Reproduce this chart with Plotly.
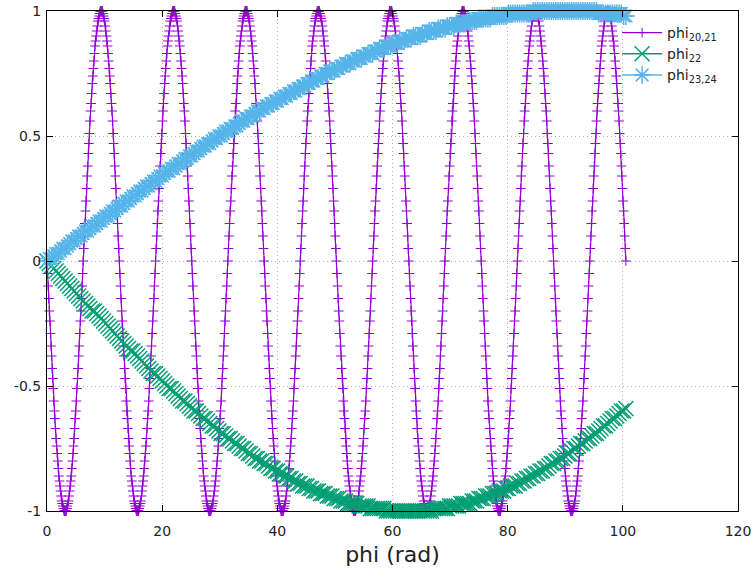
import plotly.graph_objects as go

# ---- data: phi_20,21 (fast oscillation) ----
phi_fast_x = [
0, 0.10, 0.20, 0.29, 0.39, 0.49, 0.59, 0.69, 0.79, 0.88, 0.98, 1.08, 1.18, 1.28, 1.37, 1.47, 1.57, 1.67, 1.77, 1.87, 1.96, 2.06, 2.16, 2.26, 2.36, 2.45, 2.55, 2.65, 2.75, 2.85, 2.95, 3.04,
3.14, 3.24, 3.34, 3.44, 3.53, 3.63, 3.73, 3.83, 3.93, 4.03, 4.12, 4.22, 4.32, 4.42, 4.52, 4.61, 4.71, 4.81, 4.91, 5.01, 5.11, 5.20, 5.30, 5.40, 5.50, 5.60, 5.69, 5.79, 5.89, 5.99, 6.09, 6.19,
6.28, 6.38, 6.48, 6.58, 6.68, 6.77, 6.87, 6.97, 7.07, 7.17, 7.26, 7.36, 7.46, 7.56, 7.66, 7.76, 7.85, 7.95, 8.05, 8.15, 8.25, 8.34, 8.44, 8.54, 8.64, 8.74, 8.84, 8.93, 9.03, 9.13, 9.23, 9.33,
9.42, 9.52, 9.62, 9.72, 9.82, 9.92, 10.01, 10.11, 10.21, 10.31, 10.41, 10.50, 10.60, 10.70, 10.80, 10.90, 11.00, 11.09, 11.19, 11.29, 11.39, 11.49, 11.58, 11.68, 11.78, 11.88, 11.98, 12.08, 12.17, 12.27, 12.37, 12.47,
12.57, 12.66, 12.76, 12.86, 12.96, 13.06, 13.16, 13.25, 13.35, 13.45, 13.55, 13.65, 13.74, 13.84, 13.94, 14.04, 14.14, 14.24, 14.33, 14.43, 14.53, 14.63, 14.73, 14.82, 14.92, 15.02, 15.12, 15.22, 15.32, 15.41, 15.51, 15.61,
15.71, 15.81, 15.90, 16.00, 16.10, 16.20, 16.30, 16.40, 16.49, 16.59, 16.69, 16.79, 16.89, 16.98, 17.08, 17.18, 17.28, 17.38, 17.48, 17.57, 17.67, 17.77, 17.87, 17.97, 18.06, 18.16, 18.26, 18.36, 18.46, 18.56, 18.65, 18.75,
18.85, 18.95, 19.05, 19.14, 19.24, 19.34, 19.44, 19.54, 19.63, 19.73, 19.83, 19.93, 20.03, 20.13, 20.22, 20.32, 20.42, 20.52, 20.62, 20.71, 20.81, 20.91, 21.01, 21.11, 21.21, 21.30, 21.40, 21.50, 21.60, 21.70, 21.79, 21.89,
21.99, 22.09, 22.19, 22.29, 22.38, 22.48, 22.58, 22.68, 22.78, 22.87, 22.97, 23.07, 23.17, 23.27, 23.37, 23.46, 23.56, 23.66, 23.76, 23.86, 23.95, 24.05, 24.15, 24.25, 24.35, 24.45, 24.54, 24.64, 24.74, 24.84, 24.94, 25.03,
25.13, 25.23, 25.33, 25.43, 25.53, 25.62, 25.72, 25.82, 25.92, 26.02, 26.11, 26.21, 26.31, 26.41, 26.51, 26.61, 26.70, 26.80, 26.90, 27.00, 27.10, 27.19, 27.29, 27.39, 27.49, 27.59, 27.69, 27.78, 27.88, 27.98, 28.08, 28.18,
28.27, 28.37, 28.47, 28.57, 28.67, 28.77, 28.86, 28.96, 29.06, 29.16, 29.26, 29.35, 29.45, 29.55, 29.65, 29.75, 29.85, 29.94, 30.04, 30.14, 30.24, 30.34, 30.43, 30.53, 30.63, 30.73, 30.83, 30.93, 31.02, 31.12, 31.22, 31.32,
31.42, 31.51, 31.61, 31.71, 31.81, 31.91, 32.00, 32.10, 32.20, 32.30, 32.40, 32.50, 32.59, 32.69, 32.79, 32.89, 32.99, 33.08, 33.18, 33.28, 33.38, 33.48, 33.58, 33.67, 33.77, 33.87, 33.97, 34.07, 34.16, 34.26, 34.36, 34.46,
34.56, 34.66, 34.75, 34.85, 34.95, 35.05, 35.15, 35.24, 35.34, 35.44, 35.54, 35.64, 35.74, 35.83, 35.93, 36.03, 36.13, 36.23, 36.32, 36.42, 36.52, 36.62, 36.72, 36.82, 36.91, 37.01, 37.11, 37.21, 37.31, 37.40, 37.50, 37.60,
37.70, 37.80, 37.90, 37.99, 38.09, 38.19, 38.29, 38.39, 38.48, 38.58, 38.68, 38.78, 38.88, 38.98, 39.07, 39.17, 39.27, 39.37, 39.47, 39.56, 39.66, 39.76, 39.86, 39.96, 40.06, 40.15, 40.25, 40.35, 40.45, 40.55, 40.64, 40.74,
40.84, 40.94, 41.04, 41.14, 41.23, 41.33, 41.43, 41.53, 41.63, 41.72, 41.82, 41.92, 42.02, 42.12, 42.22, 42.31, 42.41, 42.51, 42.61, 42.71, 42.80, 42.90, 43.00, 43.10, 43.20, 43.30, 43.39, 43.49, 43.59, 43.69, 43.79, 43.88,
43.98, 44.08, 44.18, 44.28, 44.38, 44.47, 44.57, 44.67, 44.77, 44.87, 44.96, 45.06, 45.16, 45.26, 45.36, 45.45, 45.55, 45.65, 45.75, 45.85, 45.95, 46.04, 46.14, 46.24, 46.34, 46.44, 46.53, 46.63, 46.73, 46.83, 46.93, 47.03,
47.12, 47.22, 47.32, 47.42, 47.52, 47.61, 47.71, 47.81, 47.91, 48.01, 48.11, 48.20, 48.30, 48.40, 48.50, 48.60, 48.69, 48.79, 48.89, 48.99, 49.09, 49.19, 49.28, 49.38, 49.48, 49.58, 49.68, 49.77, 49.87, 49.97, 50.07, 50.17,
50.27, 50.36, 50.46, 50.56, 50.66, 50.76, 50.85, 50.95, 51.05, 51.15, 51.25, 51.35, 51.44, 51.54, 51.64, 51.74, 51.84, 51.93, 52.03, 52.13, 52.23, 52.33, 52.43, 52.52, 52.62, 52.72, 52.82, 52.92, 53.01, 53.11, 53.21, 53.31,
53.41, 53.51, 53.60, 53.70, 53.80, 53.90, 54.00, 54.09, 54.19, 54.29, 54.39, 54.49, 54.59, 54.68, 54.78, 54.88, 54.98, 55.08, 55.17, 55.27, 55.37, 55.47, 55.57, 55.67, 55.76, 55.86, 55.96, 56.06, 56.16, 56.25, 56.35, 56.45,
56.55, 56.65, 56.75, 56.84, 56.94, 57.04, 57.14, 57.24, 57.33, 57.43, 57.53, 57.63, 57.73, 57.83, 57.92, 58.02, 58.12, 58.22, 58.32, 58.41, 58.51, 58.61, 58.71, 58.81, 58.90, 59.00, 59.10, 59.20, 59.30, 59.40, 59.49, 59.59,
59.69, 59.79, 59.89, 59.98, 60.08, 60.18, 60.28, 60.38, 60.48, 60.57, 60.67, 60.77, 60.87, 60.97, 61.06, 61.16, 61.26, 61.36, 61.46, 61.56, 61.65, 61.75, 61.85, 61.95, 62.05, 62.14, 62.24, 62.34, 62.44, 62.54, 62.64, 62.73,
62.83, 62.93, 63.03, 63.13, 63.22, 63.32, 63.42, 63.52, 63.62, 63.72, 63.81, 63.91, 64.01, 64.11, 64.21, 64.30, 64.40, 64.50, 64.60, 64.70, 64.80, 64.89, 64.99, 65.09, 65.19, 65.29, 65.38, 65.48, 65.58, 65.68, 65.78, 65.88,
65.97, 66.07, 66.17, 66.27, 66.37, 66.46, 66.56, 66.66, 66.76, 66.86, 66.96, 67.05, 67.15, 67.25, 67.35, 67.45, 67.54, 67.64, 67.74, 67.84, 67.94, 68.04, 68.13, 68.23, 68.33, 68.43, 68.53, 68.62, 68.72, 68.82, 68.92, 69.02,
69.12, 69.21, 69.31, 69.41, 69.51, 69.61, 69.70, 69.80, 69.90, 70.00, 70.10, 70.19, 70.29, 70.39, 70.49, 70.59, 70.69, 70.78, 70.88, 70.98, 71.08, 71.18, 71.27, 71.37, 71.47, 71.57, 71.67, 71.77, 71.86, 71.96, 72.06, 72.16,
72.26, 72.35, 72.45, 72.55, 72.65, 72.75, 72.85, 72.94, 73.04, 73.14, 73.24, 73.34, 73.43, 73.53, 73.63, 73.73, 73.83, 73.93, 74.02, 74.12, 74.22, 74.32, 74.42, 74.51, 74.61, 74.71, 74.81, 74.91, 75.01, 75.10, 75.20, 75.30,
75.40, 75.50, 75.59, 75.69, 75.79, 75.89, 75.99, 76.09, 76.18, 76.28, 76.38, 76.48, 76.58, 76.67, 76.77, 76.87, 76.97, 77.07, 77.17, 77.26, 77.36, 77.46, 77.56, 77.66, 77.75, 77.85, 77.95, 78.05, 78.15, 78.25, 78.34, 78.44,
78.54, 78.64, 78.74, 78.83, 78.93, 79.03, 79.13, 79.23, 79.33, 79.42, 79.52, 79.62, 79.72, 79.82, 79.91, 80.01, 80.11, 80.21, 80.31, 80.41, 80.50, 80.60, 80.70, 80.80, 80.90, 80.99, 81.09, 81.19, 81.29, 81.39, 81.49, 81.58,
81.68, 81.78, 81.88, 81.98, 82.07, 82.17, 82.27, 82.37, 82.47, 82.57, 82.66, 82.76, 82.86, 82.96, 83.06, 83.15, 83.25, 83.35, 83.45, 83.55, 83.64, 83.74, 83.84, 83.94, 84.04, 84.14, 84.23, 84.33, 84.43, 84.53, 84.63, 84.72,
84.82, 84.92, 85.02, 85.12, 85.22, 85.31, 85.41, 85.51, 85.61, 85.71, 85.80, 85.90, 86.00, 86.10, 86.20, 86.30, 86.39, 86.49, 86.59, 86.69, 86.79, 86.88, 86.98, 87.08, 87.18, 87.28, 87.38, 87.47, 87.57, 87.67, 87.77, 87.87,
87.96, 88.06, 88.16, 88.26, 88.36, 88.46, 88.55, 88.65, 88.75, 88.85, 88.95, 89.04, 89.14, 89.24, 89.34, 89.44, 89.54, 89.63, 89.73, 89.83, 89.93, 90.03, 90.12, 90.22, 90.32, 90.42, 90.52, 90.62, 90.71, 90.81, 90.91, 91.01,
91.11, 91.20, 91.30, 91.40, 91.50, 91.60, 91.70, 91.79, 91.89, 91.99, 92.09, 92.19, 92.28, 92.38, 92.48, 92.58, 92.68, 92.78, 92.87, 92.97, 93.07, 93.17, 93.27, 93.36, 93.46, 93.56, 93.66, 93.76, 93.86, 93.95, 94.05, 94.15,
94.25, 94.35, 94.44, 94.54, 94.64, 94.74, 94.84, 94.94, 95.03, 95.13, 95.23, 95.33, 95.43, 95.52, 95.62, 95.72, 95.82, 95.92, 96.01, 96.11, 96.21, 96.31, 96.41, 96.51, 96.60, 96.70, 96.80, 96.90, 97.00, 97.09, 97.19, 97.29,
97.39, 97.49, 97.59, 97.68, 97.78, 97.88, 97.98, 98.08, 98.17, 98.27, 98.37, 98.47, 98.57, 98.67, 98.76, 98.86, 98.96, 99.06, 99.16, 99.25, 99.35, 99.45, 99.55, 99.65, 99.75, 99.84, 99.94, 100.04, 100.14, 100.24, 100.33, 100.43,
100.53,
]

phi_20_21 = [
0, -0.05, -0.1, -0.15, -0.2, -0.24, -0.29, -0.34, -0.38, -0.43, -0.47, -0.51, -0.56, -0.6, -0.63, -0.67, -0.71, -0.74, -0.77, -0.8, -0.83, -0.86, -0.88, -0.9, -0.92, -0.94, -0.96, -0.97, -0.98, -0.99, -1, -1,
-1, -1, -1, -0.99, -0.98, -0.97, -0.96, -0.94, -0.92, -0.9, -0.88, -0.86, -0.83, -0.8, -0.77, -0.74, -0.71, -0.67, -0.63, -0.6, -0.56, -0.51, -0.47, -0.43, -0.38, -0.34, -0.29, -0.24, -0.2, -0.15, -0.1, -0.05,
0, 0.05, 0.1, 0.15, 0.2, 0.24, 0.29, 0.34, 0.38, 0.43, 0.47, 0.51, 0.56, 0.6, 0.63, 0.67, 0.71, 0.74, 0.77, 0.8, 0.83, 0.86, 0.88, 0.9, 0.92, 0.94, 0.96, 0.97, 0.98, 0.99, 1, 1,
1, 1, 1, 0.99, 0.98, 0.97, 0.96, 0.94, 0.92, 0.9, 0.88, 0.86, 0.83, 0.8, 0.77, 0.74, 0.71, 0.67, 0.63, 0.6, 0.56, 0.51, 0.47, 0.43, 0.38, 0.34, 0.29, 0.24, 0.2, 0.15, 0.1, 0.05,
0, -0.05, -0.1, -0.15, -0.2, -0.24, -0.29, -0.34, -0.38, -0.43, -0.47, -0.51, -0.56, -0.6, -0.63, -0.67, -0.71, -0.74, -0.77, -0.8, -0.83, -0.86, -0.88, -0.9, -0.92, -0.94, -0.96, -0.97, -0.98, -0.99, -1, -1,
-1, -1, -1, -0.99, -0.98, -0.97, -0.96, -0.94, -0.92, -0.9, -0.88, -0.86, -0.83, -0.8, -0.77, -0.74, -0.71, -0.67, -0.63, -0.6, -0.56, -0.51, -0.47, -0.43, -0.38, -0.34, -0.29, -0.24, -0.2, -0.15, -0.1, -0.05,
0, 0.05, 0.1, 0.15, 0.2, 0.24, 0.29, 0.34, 0.38, 0.43, 0.47, 0.51, 0.56, 0.6, 0.63, 0.67, 0.71, 0.74, 0.77, 0.8, 0.83, 0.86, 0.88, 0.9, 0.92, 0.94, 0.96, 0.97, 0.98, 0.99, 1, 1,
1, 1, 1, 0.99, 0.98, 0.97, 0.96, 0.94, 0.92, 0.9, 0.88, 0.86, 0.83, 0.8, 0.77, 0.74, 0.71, 0.67, 0.63, 0.6, 0.56, 0.51, 0.47, 0.43, 0.38, 0.34, 0.29, 0.24, 0.2, 0.15, 0.1, 0.05,
0, -0.05, -0.1, -0.15, -0.2, -0.24, -0.29, -0.34, -0.38, -0.43, -0.47, -0.51, -0.56, -0.6, -0.63, -0.67, -0.71, -0.74, -0.77, -0.8, -0.83, -0.86, -0.88, -0.9, -0.92, -0.94, -0.96, -0.97, -0.98, -0.99, -1, -1,
-1, -1, -1, -0.99, -0.98, -0.97, -0.96, -0.94, -0.92, -0.9, -0.88, -0.86, -0.83, -0.8, -0.77, -0.74, -0.71, -0.67, -0.63, -0.6, -0.56, -0.51, -0.47, -0.43, -0.38, -0.34, -0.29, -0.24, -0.2, -0.15, -0.1, -0.05,
0, 0.05, 0.1, 0.15, 0.2, 0.24, 0.29, 0.34, 0.38, 0.43, 0.47, 0.51, 0.56, 0.6, 0.63, 0.67, 0.71, 0.74, 0.77, 0.8, 0.83, 0.86, 0.88, 0.9, 0.92, 0.94, 0.96, 0.97, 0.98, 0.99, 1, 1,
1, 1, 1, 0.99, 0.98, 0.97, 0.96, 0.94, 0.92, 0.9, 0.88, 0.86, 0.83, 0.8, 0.77, 0.74, 0.71, 0.67, 0.63, 0.6, 0.56, 0.51, 0.47, 0.43, 0.38, 0.34, 0.29, 0.24, 0.2, 0.15, 0.1, 0.05,
0, -0.05, -0.1, -0.15, -0.2, -0.24, -0.29, -0.34, -0.38, -0.43, -0.47, -0.51, -0.56, -0.6, -0.63, -0.67, -0.71, -0.74, -0.77, -0.8, -0.83, -0.86, -0.88, -0.9, -0.92, -0.94, -0.96, -0.97, -0.98, -0.99, -1, -1,
-1, -1, -1, -0.99, -0.98, -0.97, -0.96, -0.94, -0.92, -0.9, -0.88, -0.86, -0.83, -0.8, -0.77, -0.74, -0.71, -0.67, -0.63, -0.6, -0.56, -0.51, -0.47, -0.43, -0.38, -0.34, -0.29, -0.24, -0.2, -0.15, -0.1, -0.05,
0, 0.05, 0.1, 0.15, 0.2, 0.24, 0.29, 0.34, 0.38, 0.43, 0.47, 0.51, 0.56, 0.6, 0.63, 0.67, 0.71, 0.74, 0.77, 0.8, 0.83, 0.86, 0.88, 0.9, 0.92, 0.94, 0.96, 0.97, 0.98, 0.99, 1, 1,
1, 1, 1, 0.99, 0.98, 0.97, 0.96, 0.94, 0.92, 0.9, 0.88, 0.86, 0.83, 0.8, 0.77, 0.74, 0.71, 0.67, 0.63, 0.6, 0.56, 0.51, 0.47, 0.43, 0.38, 0.34, 0.29, 0.24, 0.2, 0.15, 0.1, 0.05,
0, -0.05, -0.1, -0.15, -0.2, -0.24, -0.29, -0.34, -0.38, -0.43, -0.47, -0.51, -0.56, -0.6, -0.63, -0.67, -0.71, -0.74, -0.77, -0.8, -0.83, -0.86, -0.88, -0.9, -0.92, -0.94, -0.96, -0.97, -0.98, -0.99, -1, -1,
-1, -1, -1, -0.99, -0.98, -0.97, -0.96, -0.94, -0.92, -0.9, -0.88, -0.86, -0.83, -0.8, -0.77, -0.74, -0.71, -0.67, -0.63, -0.6, -0.56, -0.51, -0.47, -0.43, -0.38, -0.34, -0.29, -0.24, -0.2, -0.15, -0.1, -0.05,
0, 0.05, 0.1, 0.15, 0.2, 0.24, 0.29, 0.34, 0.38, 0.43, 0.47, 0.51, 0.56, 0.6, 0.63, 0.67, 0.71, 0.74, 0.77, 0.8, 0.83, 0.86, 0.88, 0.9, 0.92, 0.94, 0.96, 0.97, 0.98, 0.99, 1, 1,
1, 1, 1, 0.99, 0.98, 0.97, 0.96, 0.94, 0.92, 0.9, 0.88, 0.86, 0.83, 0.8, 0.77, 0.74, 0.71, 0.67, 0.63, 0.6, 0.56, 0.51, 0.47, 0.43, 0.38, 0.34, 0.29, 0.24, 0.2, 0.15, 0.1, 0.05,
0, -0.05, -0.1, -0.15, -0.2, -0.24, -0.29, -0.34, -0.38, -0.43, -0.47, -0.51, -0.56, -0.6, -0.63, -0.67, -0.71, -0.74, -0.77, -0.8, -0.83, -0.86, -0.88, -0.9, -0.92, -0.94, -0.96, -0.97, -0.98, -0.99, -1, -1,
-1, -1, -1, -0.99, -0.98, -0.97, -0.96, -0.94, -0.92, -0.9, -0.88, -0.86, -0.83, -0.8, -0.77, -0.74, -0.71, -0.67, -0.63, -0.6, -0.56, -0.51, -0.47, -0.43, -0.38, -0.34, -0.29, -0.24, -0.2, -0.15, -0.1, -0.05,
0, 0.05, 0.1, 0.15, 0.2, 0.24, 0.29, 0.34, 0.38, 0.43, 0.47, 0.51, 0.56, 0.6, 0.63, 0.67, 0.71, 0.74, 0.77, 0.8, 0.83, 0.86, 0.88, 0.9, 0.92, 0.94, 0.96, 0.97, 0.98, 0.99, 1, 1,
1, 1, 1, 0.99, 0.98, 0.97, 0.96, 0.94, 0.92, 0.9, 0.88, 0.86, 0.83, 0.8, 0.77, 0.74, 0.71, 0.67, 0.63, 0.6, 0.56, 0.51, 0.47, 0.43, 0.38, 0.34, 0.29, 0.24, 0.2, 0.15, 0.1, 0.05,
0, -0.05, -0.1, -0.15, -0.2, -0.24, -0.29, -0.34, -0.38, -0.43, -0.47, -0.51, -0.56, -0.6, -0.63, -0.67, -0.71, -0.74, -0.77, -0.8, -0.83, -0.86, -0.88, -0.9, -0.92, -0.94, -0.96, -0.97, -0.98, -0.99, -1, -1,
-1, -1, -1, -0.99, -0.98, -0.97, -0.96, -0.94, -0.92, -0.9, -0.88, -0.86, -0.83, -0.8, -0.77, -0.74, -0.71, -0.67, -0.63, -0.6, -0.56, -0.51, -0.47, -0.43, -0.38, -0.34, -0.29, -0.24, -0.2, -0.15, -0.1, -0.05,
0, 0.05, 0.1, 0.15, 0.2, 0.24, 0.29, 0.34, 0.38, 0.43, 0.47, 0.51, 0.56, 0.6, 0.63, 0.67, 0.71, 0.74, 0.77, 0.8, 0.83, 0.86, 0.88, 0.9, 0.92, 0.94, 0.96, 0.97, 0.98, 0.99, 1, 1,
1, 1, 1, 0.99, 0.98, 0.97, 0.96, 0.94, 0.92, 0.9, 0.88, 0.86, 0.83, 0.8, 0.77, 0.74, 0.71, 0.67, 0.63, 0.6, 0.56, 0.51, 0.47, 0.43, 0.38, 0.34, 0.29, 0.24, 0.2, 0.15, 0.1, 0.05,
0, -0.05, -0.1, -0.15, -0.2, -0.24, -0.29, -0.34, -0.38, -0.43, -0.47, -0.51, -0.56, -0.6, -0.63, -0.67, -0.71, -0.74, -0.77, -0.8, -0.83, -0.86, -0.88, -0.9, -0.92, -0.94, -0.96, -0.97, -0.98, -0.99, -1, -1,
-1, -1, -1, -0.99, -0.98, -0.97, -0.96, -0.94, -0.92, -0.9, -0.88, -0.86, -0.83, -0.8, -0.77, -0.74, -0.71, -0.67, -0.63, -0.6, -0.56, -0.51, -0.47, -0.43, -0.38, -0.34, -0.29, -0.24, -0.2, -0.15, -0.1, -0.05,
0, 0.05, 0.1, 0.15, 0.2, 0.24, 0.29, 0.34, 0.38, 0.43, 0.47, 0.51, 0.56, 0.6, 0.63, 0.67, 0.71, 0.74, 0.77, 0.8, 0.83, 0.86, 0.88, 0.9, 0.92, 0.94, 0.96, 0.97, 0.98, 0.99, 1, 1,
1, 1, 1, 0.99, 0.98, 0.97, 0.96, 0.94, 0.92, 0.9, 0.88, 0.86, 0.83, 0.8, 0.77, 0.74, 0.71, 0.67, 0.63, 0.6, 0.56, 0.51, 0.47, 0.43, 0.38, 0.34, 0.29, 0.24, 0.2, 0.15, 0.1, 0.05,
0,
]

# ---- data: phi_22 and phi_23,24 (slow curves) ----
phi_slow_x = [
0, 0.39, 0.79, 1.18, 1.57, 1.96, 2.36, 2.75, 3.14, 3.53, 3.93, 4.32, 4.71, 5.11, 5.50, 5.89,
6.28, 6.68, 7.07, 7.46, 7.85, 8.25, 8.64, 9.03, 9.42, 9.82, 10.21, 10.60, 11.00, 11.39, 11.78, 12.17,
12.57, 12.96, 13.35, 13.74, 14.14, 14.53, 14.92, 15.32, 15.71, 16.10, 16.49, 16.89, 17.28, 17.67, 18.06, 18.46,
18.85, 19.24, 19.63, 20.03, 20.42, 20.81, 21.21, 21.60, 21.99, 22.38, 22.78, 23.17, 23.56, 23.95, 24.35, 24.74,
25.13, 25.53, 25.92, 26.31, 26.70, 27.10, 27.49, 27.88, 28.27, 28.67, 29.06, 29.45, 29.85, 30.24, 30.63, 31.02,
31.42, 31.81, 32.20, 32.59, 32.99, 33.38, 33.77, 34.16, 34.56, 34.95, 35.34, 35.74, 36.13, 36.52, 36.91, 37.31,
37.70, 38.09, 38.48, 38.88, 39.27, 39.66, 40.06, 40.45, 40.84, 41.23, 41.63, 42.02, 42.41, 42.80, 43.20, 43.59,
43.98, 44.38, 44.77, 45.16, 45.55, 45.95, 46.34, 46.73, 47.12, 47.52, 47.91, 48.30, 48.69, 49.09, 49.48, 49.87,
50.27, 50.66, 51.05, 51.44, 51.84, 52.23, 52.62, 53.01, 53.41, 53.80, 54.19, 54.59, 54.98, 55.37, 55.76, 56.16,
56.55, 56.94, 57.33, 57.73, 58.12, 58.51, 58.90, 59.30, 59.69, 60.08, 60.48, 60.87, 61.26, 61.65, 62.05, 62.44,
62.83, 63.22, 63.62, 64.01, 64.40, 64.80, 65.19, 65.58, 65.97, 66.37, 66.76, 67.15, 67.54, 67.94, 68.33, 68.72,
69.12, 69.51, 69.90, 70.29, 70.69, 71.08, 71.47, 71.86, 72.26, 72.65, 73.04, 73.43, 73.83, 74.22, 74.61, 75.01,
75.40, 75.79, 76.18, 76.58, 76.97, 77.36, 77.75, 78.15, 78.54, 78.93, 79.33, 79.72, 80.11, 80.50, 80.90, 81.29,
81.68, 82.07, 82.47, 82.86, 83.25, 83.64, 84.04, 84.43, 84.82, 85.22, 85.61, 86.00, 86.39, 86.79, 87.18, 87.57,
87.96, 88.36, 88.75, 89.14, 89.54, 89.93, 90.32, 90.71, 91.11, 91.50, 91.89, 92.28, 92.68, 93.07, 93.46, 93.86,
94.25, 94.64, 95.03, 95.43, 95.82, 96.21, 96.60, 97.00, 97.39, 97.78, 98.17, 98.57, 98.96, 99.35, 99.75, 100.14,
100.53,
]

phi_22 = [
0, -0.01, -0.02, -0.03, -0.04, -0.05, -0.06, -0.07, -0.08, -0.09, -0.10, -0.11, -0.12, -0.13, -0.14, -0.15,
-0.16, -0.17, -0.18, -0.19, -0.20, -0.20, -0.21, -0.22, -0.23, -0.24, -0.25, -0.26, -0.27, -0.28, -0.29, -0.30,
-0.31, -0.32, -0.33, -0.34, -0.35, -0.36, -0.36, -0.37, -0.38, -0.39, -0.40, -0.41, -0.42, -0.43, -0.44, -0.45,
-0.45, -0.46, -0.47, -0.48, -0.49, -0.50, -0.51, -0.51, -0.52, -0.53, -0.54, -0.55, -0.56, -0.56, -0.57, -0.58,
-0.59, -0.60, -0.60, -0.61, -0.62, -0.63, -0.63, -0.64, -0.65, -0.66, -0.66, -0.67, -0.68, -0.69, -0.69, -0.70,
-0.71, -0.71, -0.72, -0.73, -0.73, -0.74, -0.75, -0.75, -0.76, -0.77, -0.77, -0.78, -0.79, -0.79, -0.80, -0.80,
-0.81, -0.81, -0.82, -0.83, -0.83, -0.84, -0.84, -0.85, -0.85, -0.86, -0.86, -0.87, -0.87, -0.88, -0.88, -0.89,
-0.89, -0.90, -0.90, -0.90, -0.91, -0.91, -0.92, -0.92, -0.92, -0.93, -0.93, -0.93, -0.94, -0.94, -0.94, -0.95,
-0.95, -0.95, -0.96, -0.96, -0.96, -0.97, -0.97, -0.97, -0.97, -0.97, -0.98, -0.98, -0.98, -0.98, -0.98, -0.99,
-0.99, -0.99, -0.99, -0.99, -0.99, -0.99, -1.00, -1.00, -1.00, -1.00, -1.00, -1.00, -1.00, -1.00, -1.00, -1.00,
-1.00, -1.00, -1.00, -1.00, -1.00, -1.00, -1.00, -1.00, -1.00, -1.00, -1.00, -0.99, -0.99, -0.99, -0.99, -0.99,
-0.99, -0.99, -0.98, -0.98, -0.98, -0.98, -0.98, -0.97, -0.97, -0.97, -0.97, -0.97, -0.96, -0.96, -0.96, -0.95,
-0.95, -0.95, -0.94, -0.94, -0.94, -0.93, -0.93, -0.93, -0.92, -0.92, -0.92, -0.91, -0.91, -0.90, -0.90, -0.90,
-0.89, -0.89, -0.88, -0.88, -0.87, -0.87, -0.86, -0.86, -0.85, -0.85, -0.84, -0.84, -0.83, -0.83, -0.82, -0.81,
-0.81, -0.80, -0.80, -0.79, -0.79, -0.78, -0.77, -0.77, -0.76, -0.75, -0.75, -0.74, -0.73, -0.73, -0.72, -0.71,
-0.71, -0.70, -0.69, -0.69, -0.68, -0.67, -0.66, -0.66, -0.65, -0.64, -0.63, -0.63, -0.62, -0.61, -0.60, -0.60,
-0.59,
]

phi_23_24 = [
0, 0.01, 0.01, 0.02, 0.03, 0.03, 0.04, 0.05, 0.05, 0.06, 0.07, 0.08, 0.08, 0.09, 0.10, 0.10,
0.11, 0.12, 0.12, 0.13, 0.14, 0.14, 0.15, 0.16, 0.16, 0.17, 0.18, 0.18, 0.19, 0.20, 0.20, 0.21,
0.22, 0.22, 0.23, 0.24, 0.24, 0.25, 0.26, 0.26, 0.27, 0.28, 0.28, 0.29, 0.30, 0.30, 0.31, 0.32,
0.32, 0.33, 0.34, 0.34, 0.35, 0.36, 0.36, 0.37, 0.37, 0.38, 0.39, 0.39, 0.40, 0.41, 0.41, 0.42,
0.42, 0.43, 0.44, 0.44, 0.45, 0.46, 0.46, 0.47, 0.47, 0.48, 0.49, 0.49, 0.50, 0.50, 0.51, 0.52,
0.52, 0.53, 0.53, 0.54, 0.54, 0.55, 0.56, 0.56, 0.57, 0.57, 0.58, 0.58, 0.59, 0.60, 0.60, 0.61,
0.61, 0.62, 0.62, 0.63, 0.63, 0.64, 0.64, 0.65, 0.65, 0.66, 0.66, 0.67, 0.67, 0.68, 0.68, 0.69,
0.69, 0.70, 0.70, 0.71, 0.71, 0.72, 0.72, 0.73, 0.73, 0.74, 0.74, 0.75, 0.75, 0.76, 0.76, 0.76,
0.77, 0.77, 0.78, 0.78, 0.79, 0.79, 0.79, 0.80, 0.80, 0.81, 0.81, 0.81, 0.82, 0.82, 0.83, 0.83,
0.83, 0.84, 0.84, 0.85, 0.85, 0.85, 0.86, 0.86, 0.86, 0.87, 0.87, 0.87, 0.88, 0.88, 0.88, 0.89,
0.89, 0.89, 0.90, 0.90, 0.90, 0.90, 0.91, 0.91, 0.91, 0.92, 0.92, 0.92, 0.92, 0.93, 0.93, 0.93,
0.93, 0.94, 0.94, 0.94, 0.94, 0.95, 0.95, 0.95, 0.95, 0.95, 0.96, 0.96, 0.96, 0.96, 0.96, 0.97,
0.97, 0.97, 0.97, 0.97, 0.97, 0.98, 0.98, 0.98, 0.98, 0.98, 0.98, 0.98, 0.99, 0.99, 0.99, 0.99,
0.99, 0.99, 0.99, 0.99, 0.99, 0.99, 0.99, 1.00, 1.00, 1.00, 1.00, 1.00, 1.00, 1.00, 1.00, 1.00,
1.00, 1.00, 1.00, 1.00, 1.00, 1.00, 1.00, 1.00, 1.00, 1.00, 1.00, 1.00, 1.00, 1.00, 1.00, 1.00,
1.00, 1.00, 1.00, 1.00, 0.99, 0.99, 0.99, 0.99, 0.99, 0.99, 0.99, 0.99, 0.99, 0.99, 0.99, 0.98,
0.98,
]

series_names = ["phi<sub>20,21</sub>", "phi<sub>22</sub>", "phi<sub>23,24</sub>"]
x_ticks = [0, 20, 40, 60, 80, 100, 120]
y_ticks = [-1, -0.5, 0, 0.5, 1]
y_tick_text = ["-1", "-0.5", "0", "0.5", "1"]

PURPLE = "#9400d3"
GREEN = "#009e73"
BLUE = "#56b4e9"
FONT = "DejaVu Sans"
TEXT = "#222222"

fig = go.Figure()
fig.add_trace(go.Scatter(
    x=phi_fast_x, y=phi_20_21, name=series_names[0], mode="lines+markers",
    line=dict(color=PURPLE, width=1.2),
    marker=dict(symbol="cross-thin", size=7, color=PURPLE, line=dict(color=PURPLE, width=1)),
    cliponaxis=False,
))
fig.add_trace(go.Scatter(
    x=phi_slow_x, y=phi_22, name=series_names[1], mode="lines+markers",
    line=dict(color=GREEN, width=1.5),
    marker=dict(symbol="x-thin", size=15, color=GREEN, line=dict(color=GREEN, width=1.5)),
    cliponaxis=False,
))
fig.add_trace(go.Scatter(
    x=phi_slow_x, y=phi_23_24, name=series_names[2], mode="lines+markers",
    line=dict(color=BLUE, width=1.5),
    marker=dict(symbol="asterisk", size=15, color=BLUE, line=dict(color=BLUE, width=1.5)),
    cliponaxis=False,
))

axis_common = dict(
    showline=True, linecolor="black", linewidth=1, mirror="ticks",
    ticks="inside", ticklen=6, tickcolor="black", tickwidth=1,
    showgrid=True, gridcolor="#b0b0b0", griddash="1px,3px", gridwidth=1,
    zeroline=False, automargin=False,
    tickfont=dict(family=FONT, size=14, color=TEXT),
)

fig.update_xaxes(range=[0, 120], tickvals=x_ticks, ticklabelstandoff=7, **axis_common,
                 title=dict(text="phi (rad)", font=dict(family=FONT, size=22, color=TEXT), standoff=8))
fig.update_yaxes(range=[-1, 1], tickvals=y_ticks, ticktext=y_tick_text, ticklabelstandoff=2, **axis_common)

fig.update_layout(
    width=755, height=573, autosize=False,
    margin=dict(l=47, r=17, t=11, b=62),
    paper_bgcolor="white", plot_bgcolor="white",
    font=dict(family=FONT, size=14, color=TEXT),
    showlegend=True,
    hovermode=False,
    legend=dict(x=0.977, y=0.988, xanchor="right", yanchor="top",
                bgcolor="rgba(255,255,255,0)", font=dict(family=FONT, size=14, color=TEXT),
                itemwidth=40, tracegroupgap=0),
)

fig.write_html("out.html", config={"displayModeBar": False},
               post_script="document.body.style.margin='0';")
